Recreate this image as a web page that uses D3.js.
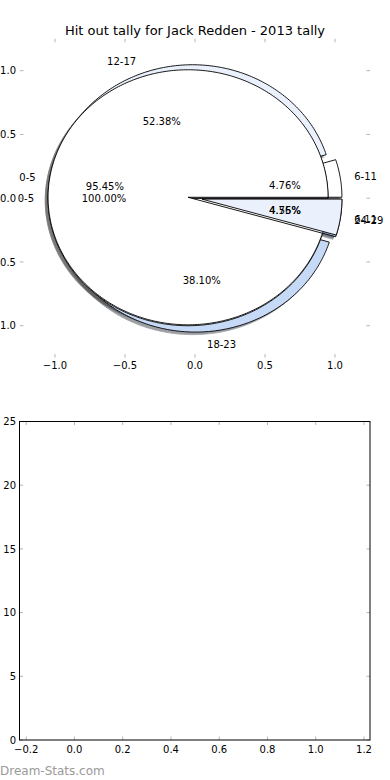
<!DOCTYPE html>
<html>
<head>
<meta charset="utf-8">
<script src="https://cdn.jsdelivr.net/npm/d3@7"></script>
<style>
  html, body { margin: 0; padding: 0; background: #fff; }
  svg { display: block; font-family: "DejaVu Sans", sans-serif; }
</style>
</head>
<body>
<div id="chart"></div>
<script>
// ---------- data ----------
const title = "Hit out tally for Jack Redden - 2013 tally";
// pie drawn first (season breakdown by minute bands)
const pieALabels = ["6-11", "12-17", "18-23", "24-29"];
const pieAValues = [1, 11, 8, 1];
// pie drawn last
const pieBLabels = ["0-5", "6-11"];
const pieBValues = [21, 1];
// full pie
const pieCLabels = ["0-5"];
const pieCValues = [1];
const wedgeColors = ["#ffffff", "#eaf0fc", "#c6d9f7", "#a9c3ee"];
const pieTicks = [-1.0, -0.5, 0.0, 0.5, 1.0];
const barXTicks = [-0.2, 0.0, 0.2, 0.4, 0.6, 0.8, 1.0, 1.2];
const barYTicks = [0, 5, 10, 15, 20, 25];
const watermark = "Dream-Stats.com";

// ---------- setup ----------
const W = 390, H = 780;
const svg = d3.select("#chart").append("svg").attr("width", W).attr("height", H);
const fmt = v => (v < 0 ? "\u2212" : "") + Math.abs(v).toFixed(1);

// pie axes
const px = d3.scaleLinear().domain([-1.25, 1.25]).range([20, 370]);
const py = d3.scaleLinear().domain([-1.25, 1.25]).range([357.6, 38.8]);

svg.append("text").attr("x", 195).attr("y", 34.5).attr("text-anchor", "middle")
  .attr("font-size", 13).attr("fill", "#000").text(title);

const tickColor = "#b4b4b4";
const gTicks = svg.append("g").attr("stroke", tickColor).attr("stroke-width", 1);
pieTicks.forEach(t => {
  gTicks.append("line").attr("x1", px(t)).attr("x2", px(t)).attr("y1", py.range()[1]).attr("y2", py.range()[1] + 3.5);
  gTicks.append("line").attr("x1", px(t)).attr("x2", px(t)).attr("y1", py.range()[0]).attr("y2", py.range()[0] - 3.5);
  gTicks.append("line").attr("y1", py(t)).attr("y2", py(t)).attr("x1", px.range()[0]).attr("x2", px.range()[0] + 3.5);
  gTicks.append("line").attr("y1", py(t)).attr("y2", py(t)).attr("x1", px.range()[1]).attr("x2", px.range()[1] - 3.5);
  svg.append("text").attr("x", px(t)).attr("y", 369).attr("text-anchor", "middle")
    .attr("font-size", 10).text(fmt(t));
  svg.append("text").attr("x", 16).attr("y", py(t) + 3.6).attr("text-anchor", "end")
    .attr("font-size", 10).text(fmt(t));
});

// build wedges with matplotlib-like geometry (start at 3 o'clock, counterclockwise, explode)
function buildPie(labels, values, explode) {
  const arcs = d3.pie().sort(null).value(d => d)(values);
  return arcs.map((a, i) => {
    const t1 = a.startAngle, t2 = a.endAngle, tm = (t1 + t2) / 2;
    const cx = explode * Math.cos(tm), cy = explode * Math.sin(tm);
    return { label: labels[i], value: values[i], t1, t2, tm, cx, cy,
      pct: (values[i] / d3.sum(values) * 100).toFixed(2) + "%",
      color: wedgeColors[i % wedgeColors.length] };
  });
}
function wedgePath(w, ox, oy) {
  const n = Math.max(8, Math.ceil((w.t2 - w.t1) / (Math.PI / 180)));
  const pts = [[w.cx + ox, w.cy + oy]];
  for (let k = 0; k <= n; k++) {
    const t = w.t1 + (w.t2 - w.t1) * k / n;
    pts.push([w.cx + ox + Math.cos(t), w.cy + oy + Math.sin(t)]);
  }
  return d3.line().x(d => px(d[0])).y(d => py(d[1]))(pts) + "Z";
}
const pieA = buildPie(pieALabels, pieAValues, 0.05);
const pieC = buildPie(pieCLabels, pieCValues, 0.05);
const pieB = buildPie(pieBLabels, pieBValues, 0.05);
const allWedges = pieA.concat(pieC, pieB);

// shadows under everything
const gShadow = svg.append("g");
allWedges.forEach(w => {
  const c = d3.rgb(w.color);
  const sc = d3.rgb(c.r * 0.3, c.g * 0.3, c.b * 0.3);
  gShadow.append("path").attr("d", wedgePath(w, -0.02, -0.02))
    .attr("fill", sc).attr("stroke", sc).attr("stroke-width", 0.8).attr("opacity", 0.5);
});
const gWedges = svg.append("g");
allWedges.forEach(w => {
  gWedges.append("path").attr("d", wedgePath(w, 0, 0))
    .attr("fill", w.color).attr("stroke", "#000").attr("stroke-width", 0.9)
    .attr("stroke-linejoin", "round");
});
// labels on top
const gLab = svg.append("g").attr("font-size", 10).attr("fill", "#000");
allWedges.forEach(w => {
  const lx = w.cx + 1.1 * Math.cos(w.tm), ly = w.cy + 1.1 * Math.sin(w.tm);
  gLab.append("text").attr("x", px(lx)).attr("y", py(ly) + 3.6)
    .attr("text-anchor", lx > 0 ? "start" : "end").text(w.label);
  const qx = w.cx + 0.6 * Math.cos(w.tm), qy = w.cy + 0.6 * Math.sin(w.tm);
  gLab.append("text").attr("x", px(qx)).attr("y", py(qy) + 3.6)
    .attr("text-anchor", "middle").text(w.pct);
});

// ---------- empty bar axes ----------
const bx = d3.scaleLinear().domain([-0.2278, 1.2249]).range([19.5, 370]);
const by = d3.scaleLinear().domain([0, 25]).range([740, 421.5]);
const gB = svg.append("g");
const gBt = gB.append("g").attr("stroke", tickColor).attr("stroke-width", 1);
barXTicks.forEach(t => {
  gBt.append("line").attr("x1", bx(t)).attr("x2", bx(t)).attr("y1", by.range()[0]).attr("y2", by.range()[0] - 3.5);
  gBt.append("line").attr("x1", bx(t)).attr("x2", bx(t)).attr("y1", by.range()[1]).attr("y2", by.range()[1] + 3.5);
  gB.append("text").attr("x", bx(t)).attr("y", 753).attr("text-anchor", "middle")
    .attr("font-size", 10).text(fmt(t));
});
barYTicks.forEach(t => {
  gBt.append("line").attr("y1", by(t)).attr("y2", by(t)).attr("x1", bx.range()[0]).attr("x2", bx.range()[0] + 3.5);
  gBt.append("line").attr("y1", by(t)).attr("y2", by(t)).attr("x1", bx.range()[1]).attr("x2", bx.range()[1] - 3.5);
  gB.append("text").attr("x", 16).attr("y", by(t) + 3.6).attr("text-anchor", "end")
    .attr("font-size", 10).text(d3.format("d")(t));
});
gB.append("rect").attr("x", bx.range()[0]).attr("y", by.range()[1])
  .attr("width", bx.range()[1] - bx.range()[0]).attr("height", by.range()[0] - by.range()[1])
  .attr("fill", "none").attr("stroke", "#000").attr("stroke-width", 1);

svg.append("text").attr("x", 0).attr("y", 774.5).attr("font-size", 12)
  .attr("fill", "#9a9a9a").text(watermark);
</script>
</body>
</html>
